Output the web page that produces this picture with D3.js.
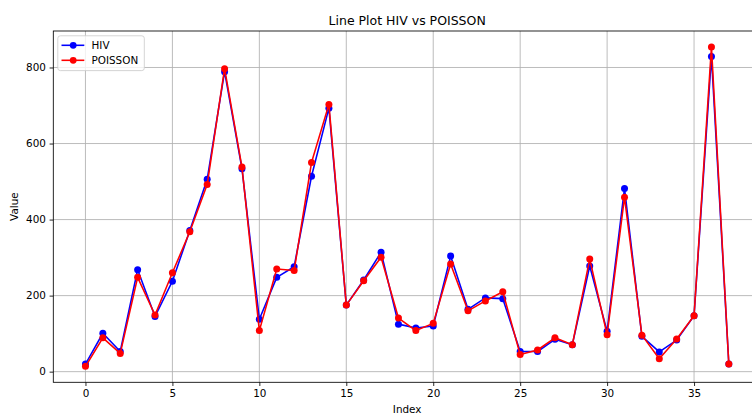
<!DOCTYPE html>
<html>
<head>
<meta charset="utf-8">
<script src="https://cdn.jsdelivr.net/npm/d3@7"></script>
<style>
  html, body { margin: 0; padding: 0; background: #fff; }
  svg { display: block; font-family: "DejaVu Sans", sans-serif; }
</style>
</head>
<body>
<svg id="chart" width="752" height="414"></svg>
<script>
const indexValues = d3.range(0, 38);
const hivValues = [20, 101, 53, 268, 145, 238, 371, 506, 789, 534,
                   138, 248, 276, 514, 693, 175, 241, 314, 125, 115,
                   120, 304, 164, 194, 192, 53, 53, 85, 71, 278,
                   106, 482, 93, 52, 83, 147, 829, 20];
const poissonValues = [14, 89, 48, 248, 149, 260, 368, 492, 797, 538,
                       108, 270, 266, 550, 703, 175, 239, 301, 141, 108,
                       127, 283, 160, 186, 210, 45, 57, 89, 71, 296,
                       97, 459, 96, 34, 86, 147, 854, 20];
const xTicks = [0, 5, 10, 15, 20, 25, 30, 35];
const yTicks = [0, 200, 400, 600, 800];
const seriesNames = ["HIV", "POISSON"];
const seriesColors = ["#0000ff", "#ff0000"];

const svg = d3.select("#chart");
const L = 53.3, R = 761, T = 31, B = 382.3;

const xMin = d3.min(indexValues), xMax = d3.max(indexValues);
const xPad = (xMax - xMin) * 0.05;
const x = d3.scaleLinear().domain([xMin - xPad, xMax + xPad]).range([L, R]);
const allY = hivValues.concat(poissonValues);
const yMin = d3.min(allY), yMax = d3.max(allY);
const yPad = (yMax - yMin) * 0.05;
const y = d3.scaleLinear().domain([yMin - yPad, yMax + yPad]).range([B, T]);

// grid
const grid = svg.append("g");
xTicks.forEach(t => grid.append("line")
  .attr("x1", x(t)).attr("x2", x(t)).attr("y1", T).attr("y2", B)
  .attr("stroke", "#b0b0b0").attr("stroke-width", 0.85));
yTicks.forEach(t => grid.append("line")
  .attr("x1", L).attr("x2", R).attr("y1", y(t)).attr("y2", y(t))
  .attr("stroke", "#b0b0b0").attr("stroke-width", 0.85));

// axes
const xAxis = svg.append("g").attr("transform", `translate(0,${B})`)
  .call(d3.axisBottom(x).tickValues(xTicks).tickSize(3.7).tickPadding(3.7).tickFormat(d3.format("d")));
const yAxis = svg.append("g").attr("transform", `translate(${L},0)`)
  .call(d3.axisLeft(y).tickValues(yTicks).tickSize(3.7).tickPadding(3.7).tickFormat(d3.format("d")));
[xAxis, yAxis].forEach(a => {
  a.select(".domain").remove();
  a.selectAll(".tick line").attr("stroke", "#000").attr("stroke-width", 0.85);
  a.selectAll(".tick text").attr("fill", "#000").style("font-size", "10.4px")
    .style("font-family", "DejaVu Sans, sans-serif");
});

// spines
svg.append("rect").attr("x", L).attr("y", T).attr("width", R - L).attr("height", B - T)
  .attr("fill", "none").attr("stroke", "#000").attr("stroke-width", 0.85);

// lines
const series = [hivValues, poissonValues];
const lineGen = d3.line().x((d, i) => x(indexValues[i])).y(d => y(d));
series.forEach((vals, si) => {
  const g = svg.append("g");
  g.append("path").datum(vals).attr("d", lineGen)
    .attr("fill", "none").attr("stroke", seriesColors[si]).attr("stroke-width", 1.57)
    .attr("stroke-linejoin", "round").attr("stroke-linecap", "square");
  g.selectAll("circle").data(vals).join("circle")
    .attr("cx", (d, i) => x(indexValues[i])).attr("cy", d => y(d)).attr("r", 3.5)
    .attr("fill", seriesColors[si]);
});

// title & labels
svg.append("text").attr("x", (L + R) / 2).attr("y", 24.8).attr("text-anchor", "middle")
  .style("font-size", "12.5px").text("Line Plot HIV vs POISSON");
svg.append("text").attr("x", (L + R) / 2).attr("y", 412.5).attr("text-anchor", "middle")
  .style("font-size", "10.4px").text("Index");
svg.append("text").attr("transform", `translate(18,${(T + B) / 2}) rotate(-90)`)
  .attr("text-anchor", "middle").style("font-size", "10.4px").text("Value");

// legend
const lg = svg.append("g");
lg.append("rect").attr("x", 57.8).attr("y", 35.8).attr("width", 86.5).attr("height", 34.8).attr("rx", 2.5)
  .attr("fill", "#fff").attr("fill-opacity", 0.8).attr("stroke", "#cccccc").attr("stroke-width", 0.85);
seriesNames.forEach((name, i) => {
  const cy = 45.3 + i * 15;
  lg.append("line").attr("x1", 61.5).attr("x2", 84.3).attr("y1", cy).attr("y2", cy)
    .attr("stroke", seriesColors[i]).attr("stroke-width", 1.57);
  lg.append("circle").attr("cx", 73.2).attr("cy", cy).attr("r", 3.4).attr("fill", seriesColors[i]);
  lg.append("text").attr("x", 91.5).attr("y", cy + 3.8).style("font-size", "10.4px").text(name);
});
</script>
</body>
</html>
